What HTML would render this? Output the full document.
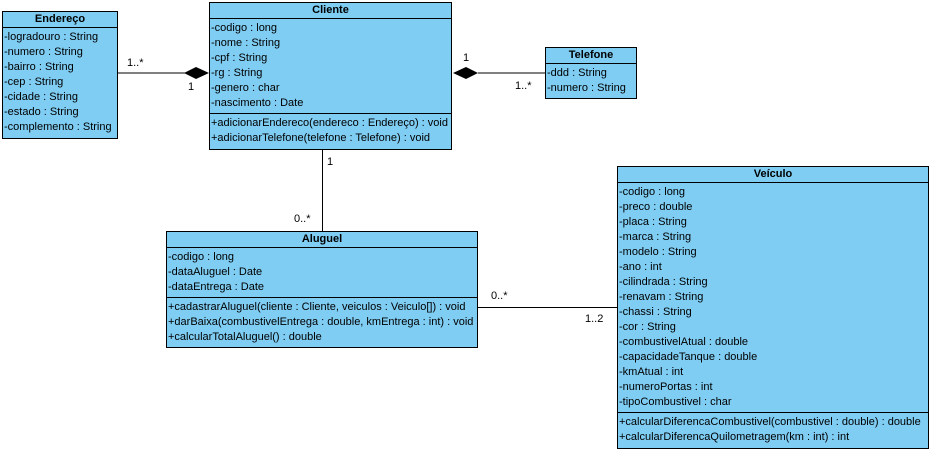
<!DOCTYPE html>
<html><head><meta charset="utf-8"><style>
body{margin:0;width:931px;height:452px;background:#fff;position:relative;overflow:hidden;font-family:"Liberation Sans",Arial,sans-serif;font-size:11px;color:#000}
.b{position:absolute;background:#7fcdf3;border:1px solid #000;box-sizing:border-box}
.h{font-weight:bold;text-align:center;border-bottom:1px solid #000;height:15px;line-height:15px}
.s{border-bottom:1px solid #000;padding:2px 0 2px 1px}
.m{padding:2px 0 0 1px}
.s div,.m div{height:15px;line-height:15px;white-space:nowrap}
.t{position:absolute;font-size:11px;white-space:nowrap}
</style></head><body>
<svg style="position:absolute;left:0;top:0" width="931" height="452">
<line x1="117" y1="73" x2="185" y2="73" stroke="#000"/>
<polygon points="184,73 196,67 209,73 196,79" fill="#000"/>
<line x1="478" y1="73" x2="546" y2="73" stroke="#000"/>
<polygon points="453,73 466,67 478,73 466,79" fill="#000"/>
<line x1="322.5" y1="149" x2="322.5" y2="231" stroke="#000"/>
<line x1="477" y1="307.5" x2="618" y2="307.5" stroke="#000"/>
</svg>
<div class="b" style="left:2px;top:11px;width:116px;height:128px">
<div class="h">Endereço</div>
<div class="m"><div>-logradouro : String</div><div>-numero : String</div><div>-bairro : String</div><div>-cep : String</div><div>-cidade : String</div><div>-estado : String</div><div>-complemento : String</div></div>
</div>
<div class="b" style="left:209px;top:2px;width:243px;height:148px">
<div class="h">Cliente</div>
<div class="s"><div>-codigo : long</div><div>-nome : String</div><div>-cpf : String</div><div>-rg : String</div><div>-genero : char</div><div>-nascimento : Date</div></div>
<div class="m"><div>+adicionarEndereco(endereco : Endereço) : void</div><div>+adicionarTelefone(telefone : Telefone) : void</div></div>
</div>
<div class="b" style="left:545px;top:47px;width:92px;height:52px">
<div class="h">Telefone</div>
<div class="m"><div>-ddd : String</div><div>-numero : String</div></div>
</div>
<div class="b" style="left:166px;top:231px;width:312px;height:117px">
<div class="h">Aluguel</div>
<div class="s"><div>-codigo : long</div><div>-dataAluguel : Date</div><div>-dataEntrega : Date</div></div>
<div class="m"><div>+cadastrarAluguel(cliente : Cliente, veiculos : Veiculo[]) : void</div><div>+darBaixa(combustivelEntrega : double, kmEntrega : int) : void</div><div>+calcularTotalAluguel() : double</div></div>
</div>
<div class="b" style="left:617px;top:166px;width:312px;height:283px">
<div class="h">Veículo</div>
<div class="s"><div>-codigo : long</div><div>-preco : double</div><div>-placa : String</div><div>-marca : String</div><div>-modelo : String</div><div>-ano : int</div><div>-cilindrada : String</div><div>-renavam : String</div><div>-chassi : String</div><div>-cor : String</div><div>-combustivelAtual : double</div><div>-capacidadeTanque : double</div><div>-kmAtual : int</div><div>-numeroPortas : int</div><div>-tipoCombustivel : char</div></div>
<div class="m"><div>+calcularDiferencaCombustivel(combustivel : double) : double</div><div>+calcularDiferencaQuilometragem(km : int) : int</div></div>
</div>
<div class="t" style="left:127px;top:57px">1..*</div>
<div class="t" style="left:188px;top:81px">1</div>
<div class="t" style="left:463px;top:52px">1</div>
<div class="t" style="left:515px;top:80px">1..*</div>
<div class="t" style="left:327px;top:156px">1</div>
<div class="t" style="left:294px;top:213px">0..*</div>
<div class="t" style="left:491px;top:290px">0..*</div>
<div class="t" style="left:585px;top:313px">1..2</div>
</body></html>
